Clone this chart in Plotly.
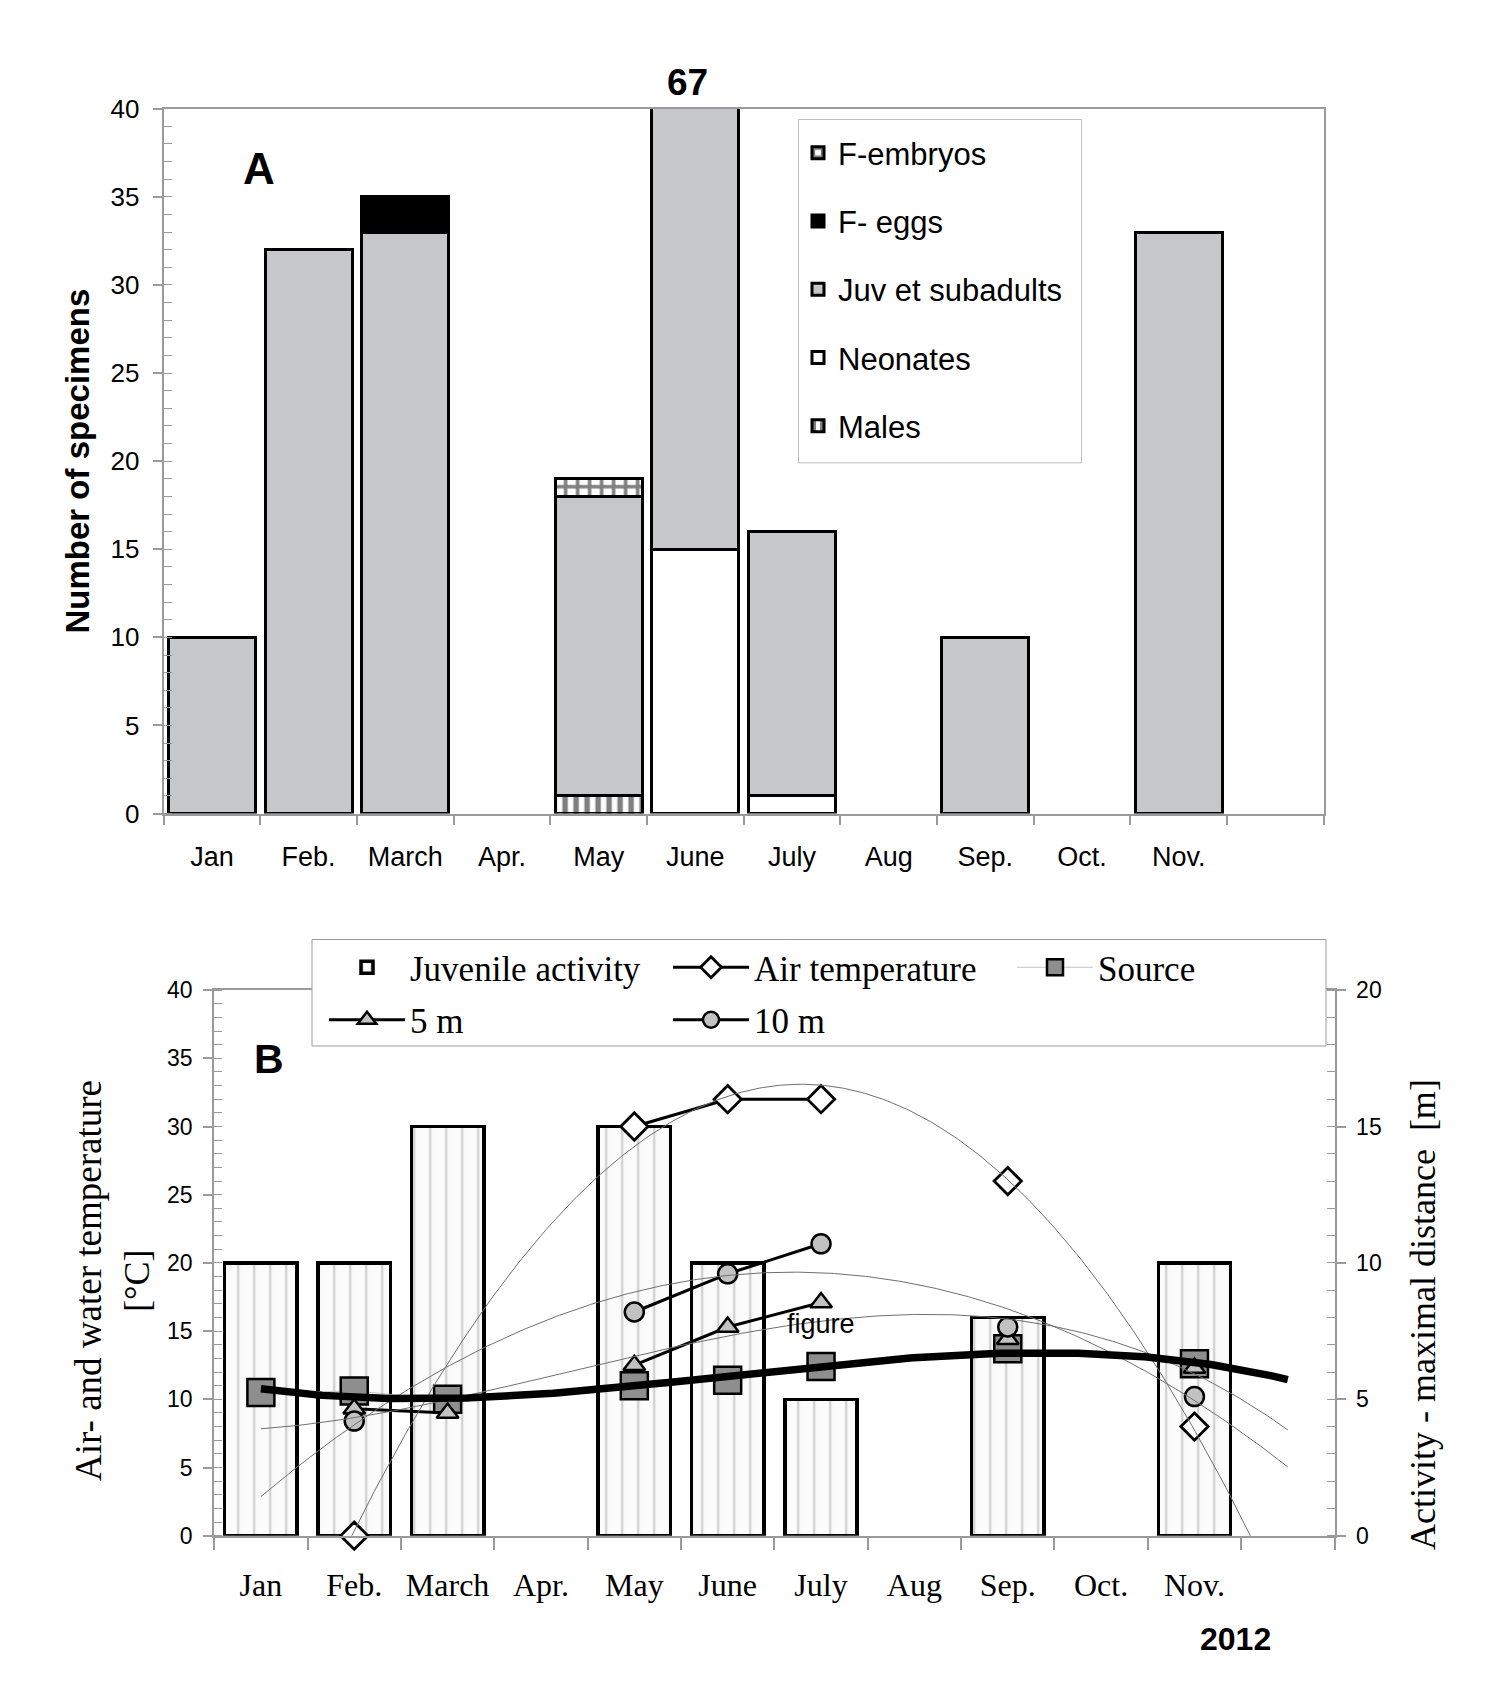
import numpy as np
import plotly.graph_objects as go

# ---------------- data ----------------
months = ["Jan", "Feb.", "March", "Apr.", "May", "June", "July", "Aug", "Sep.", "Oct.", "Nov."]

# Panel A : number of specimens (stacked)
males     = [None, None, None, None, 1, None, None, None, None, None, None]
neonates  = [None, None, None, None, None, 15, 1, None, None, None, None]
juv       = [10, 32, 33, None, 17, 52, 15, None, 10, None, 33]
f_eggs    = [None, None, 2, None, None, None, None, None, None, None, None]
f_embryos = [None, None, None, None, 1, None, None, None, None, None, None]

# Panel B
activity = [10, 10, 15, None, 15, 10, 5, None, 8, None, 10]           # m (right axis)
air      = [None, 0, None, None, 30, 32, 32, None, 26, None, 8]       # deg C
source   = [10.5, 10.6, 10.0, None, 11.0, 11.4, 12.4, None, 13.7, None, 12.6]
t5m      = [None, 9.3, 9.0, None, 12.5, 15.3, 17.1, None, 14.4, None, 12.3]
t10m     = [None, 8.4, None, None, 16.4, 19.2, 21.4, None, 15.3, None, 10.2]

# ---------------- helpers ----------------
W, H = 1496, 1672          # page body adds an 8px margin
OFF = 8
ML, MR = 100, 100
def px(x):
    return (x - OFF - ML) / (W - ML - MR)
def py(y):
    return 1 - (y - OFF) / H

SANS = "Liberation Sans, Arial, sans-serif"
SERIF = "Liberation Serif, Times New Roman, serif"
GRAY = "#9a9a9a"

xi = list(range(len(months)))
n_slots = len(months) + 1
bounds = [i - 0.5 for i in range(n_slots + 1)]

def fit(vals, deg):
    xs = np.array([i for i, v in enumerate(vals) if v is not None], float)
    ys = np.array([v for v in vals if v is not None], float)
    c = np.polyfit(xs, ys, deg)
    xx = np.linspace(0, n_slots - 1, 300)
    return xx, np.polyval(c, xx)

fig = go.Figure()

# ---------------- Panel A ----------------
OL = dict(color="black", width=3)
barA = [
    ("Males", males, 5, dict(color="white", line=OL,
                             pattern=dict(shape="|", fgcolor="black", bgcolor="white", size=11, solidity=0.5))),
    ("Neonates", neonates, 4, dict(color="white", line=OL)),
    ("Juv et subadults", juv, 3, dict(color="#c6c7c9", line=OL)),
    ("F- eggs", f_eggs, 2, dict(color="black", line=OL)),
    ("F-embryos", f_embryos, 1, dict(color="white", line=OL,
                                     pattern=dict(shape="+", fgcolor="black", bgcolor="white", size=12, solidity=0.5))),
]
for name, vals, rk, mk in barA:
    fig.add_trace(go.Bar(x=xi, y=vals, name=name, marker=mk, xaxis="x", yaxis="y",
                         legend="legend", legendgroup=name, legendrank=rk))

# ---------------- Panel B ----------------
fig.add_trace(go.Bar(x=xi, y=activity, name="Juvenile activity", xaxis="x2", yaxis="y3",
                     legend="legend2", legendrank=1, width=0.775,
                     marker=dict(color="white", line=dict(color="black", width=3.5),
                                 pattern=dict(shape="|", fgcolor="#a5a5a5", bgcolor="#fbfbfb",
                                              size=16, solidity=0.15))))

series = [
    ("Air temperature", air, dict(symbol="diamond", size=21, color="white",
                                  line=dict(color="black", width=2.8)), dict(color="black", width=3), "legend2", 2),
    ("Source", source, dict(symbol="square", size=27, color="#8e8e8e",
                            line=dict(color="black", width=2.5)), dict(color="#c4c4c4", width=1), "legend2", 3),
    ("5 m", t5m, dict(symbol="triangle-up", size=19, color="#c2c2c2",
                      line=dict(color="black", width=2.5)), dict(color="black", width=3), "legend3", 4),
    ("10 m", t10m, dict(symbol="circle", size=19, color="#c2c2c2",
                        line=dict(color="black", width=2.5)), dict(color="black", width=3), "legend3", 5),
]
for name, vals, mk, ln, lg, rk in series:
    fig.add_trace(go.Scatter(x=xi, y=vals, name=name, mode="lines+markers", marker=mk, line=ln,
                             connectgaps=False, cliponaxis=False, xaxis="x2", yaxis="y4",
                             legend=lg, legendrank=rk))

# polynomial trendlines (fitted to the data above)
for vals, deg in [(air, 2), (t5m, 3), (t10m, 2)]:
    xx, yy = fit(vals, deg)
    fig.add_trace(go.Scatter(x=xx, y=yy, mode="lines", line=dict(color="#707070", width=1),
                             xaxis="x2", yaxis="y4", showlegend=False, hoverinfo="skip"))
xx, yy = fit(source, 3)
fig.add_trace(go.Scatter(x=xx, y=yy, mode="lines", line=dict(color="black", width=7.5),
                         xaxis="x2", yaxis="y4", showlegend=False, hoverinfo="skip"))

# ---------------- axes ----------------
axis_common = dict(showline=True, linecolor=GRAY, linewidth=2, showgrid=False, zeroline=False)

fig.update_layout(
    width=W, height=H, margin=dict(l=ML, r=MR, t=0, b=0, autoexpand=False),
    paper_bgcolor="white", plot_bgcolor="white",
    barmode="stack", bargap=0.1, showlegend=True,
    font=dict(family=SANS, color="black"),
    xaxis=dict(domain=[px(163.6), px(1323.7)], anchor="y", range=[-0.5, n_slots - 0.5],
               tickmode="array", tickvals=xi, ticktext=months, ticks="",
               tickfont=dict(family=SANS, size=27), ticklabelstandoff=18, mirror=True,
               minor=dict(tickmode="array", tickvals=bounds, ticks="outside", ticklen=9,
                          tickcolor=GRAY, tickwidth=1.5),
               **axis_common),
    yaxis=dict(domain=[py(813.6), py(108.7)], anchor="x", range=[0, 40], dtick=5,
               ticks="outside", ticklen=9, tickcolor=GRAY, tickwidth=1.5,
               tickfont=dict(family=SANS, size=26), ticklabelstandoff=8, mirror=True,
               minor=dict(dtick=1, ticks="inside", ticklen=8, tickcolor=GRAY, tickwidth=1),
               **axis_common),
    xaxis2=dict(domain=[px(214.2), px(1334.5)], anchor="y3", range=[-0.5, n_slots - 0.5],
                tickmode="array", tickvals=xi, ticktext=months, ticks="",
                tickfont=dict(family=SERIF, size=32), ticklabelstandoff=20, mirror=True,
                minor=dict(tickmode="array", tickvals=bounds, ticks="outside", ticklen=12,
                           tickcolor=GRAY, tickwidth=1.5),
                **axis_common),
    yaxis3=dict(domain=[py(1535.7), py(990.1)], anchor="x2", side="right", range=[0, 20], dtick=5,
                ticks="outside", ticklen=9, tickcolor=GRAY, tickwidth=1.5,
                tickfont=dict(family=SANS, size=23), ticklabelstandoff=6,
                minor=dict(dtick=1, ticks="inside", ticklen=8, tickcolor=GRAY, tickwidth=1),
                **axis_common),
    yaxis4=dict(overlaying="y3", anchor="x2", side="left", range=[0, 40], dtick=5,
                ticks="outside", ticklen=9, tickcolor=GRAY, tickwidth=1.5,
                tickfont=dict(family=SANS, size=23), ticklabelstandoff=6,
                minor=dict(dtick=1, ticks="inside", ticklen=8, tickcolor=GRAY, tickwidth=1),
                **axis_common),
    legend=dict(x=px(798), y=py(126), xanchor="left", yanchor="top", orientation="v",
                traceorder="grouped", tracegroupgap=25,
                bgcolor="rgba(0,0,0,0)", borderwidth=0,
                font=dict(family=SANS, size=31)),
    legend2=dict(x=px(324), y=py(967.5), xanchor="left", yanchor="middle", orientation="h",
                 itemwidth=76, entrywidth=253, traceorder="normal",
                 bgcolor="rgba(0,0,0,0)", borderwidth=0,
                 font=dict(family=SERIF, size=35)),
    legend3=dict(x=px(324), y=py(1020), xanchor="left", yanchor="middle", orientation="h",
                 itemwidth=76, entrywidth=253, traceorder="normal",
                 bgcolor="rgba(0,0,0,0)", borderwidth=0,
                 font=dict(family=SERIF, size=35)),
)

# legend frames
fig.add_shape(type="rect", xref="paper", yref="paper", layer="above",
              x0=px(798.5), x1=px(1081.6), y0=py(462.8), y1=py(119.5),
              line=dict(color="#bdbdbd", width=1), fillcolor="white")
fig.add_shape(type="rect", xref="paper", yref="paper", layer="above",
              x0=px(312), x1=px(1326), y0=py(1046), y1=py(939.5),
              line=dict(color=GRAY, width=1), fillcolor="white")

june_total = sum(v for v in [males[5], neonates[5], juv[5], f_eggs[5], f_embryos[5]] if v)

ann = [
    dict(text="<b>A</b>", x=px(259), y=py(169), font=dict(family=SANS, size=44)),
    dict(text="<b>%d</b>" % june_total, x=5, xref="x", xshift=-8, y=py(82), font=dict(family=SANS, size=37)),
    dict(text="<b>Number of specimens</b>", x=px(77.5), y=py(461), textangle=-90,
         font=dict(family=SANS, size=33)),
    dict(text="<b>B</b>", x=px(269), y=py(1059), font=dict(family=SANS, size=41)),
    dict(text="figure", x=px(821), y=py(1324), font=dict(family=SANS, size=27)),
    dict(text="<b>2012</b>", x=px(1235.5), y=py(1639), font=dict(family=SANS, size=32)),
    dict(text="Air- and water temperature", x=px(88), y=py(1281), textangle=-90,
         font=dict(family=SERIF, size=37)),
    dict(text="[°C]", x=px(137), y=py(1281), textangle=-90, font=dict(family=SERIF, size=36)),
    dict(text="Activity - maximal distance  [m]", x=px(1423), y=py(1314), textangle=-90,
         font=dict(family=SERIF, size=36)),
]
for a in ann:
    a.setdefault("xref", "paper")
    a.setdefault("yref", "paper")
    a.update(showarrow=False, xanchor="center", yanchor="middle")
    fig.add_annotation(**a)

fig.write_html("out.html")
